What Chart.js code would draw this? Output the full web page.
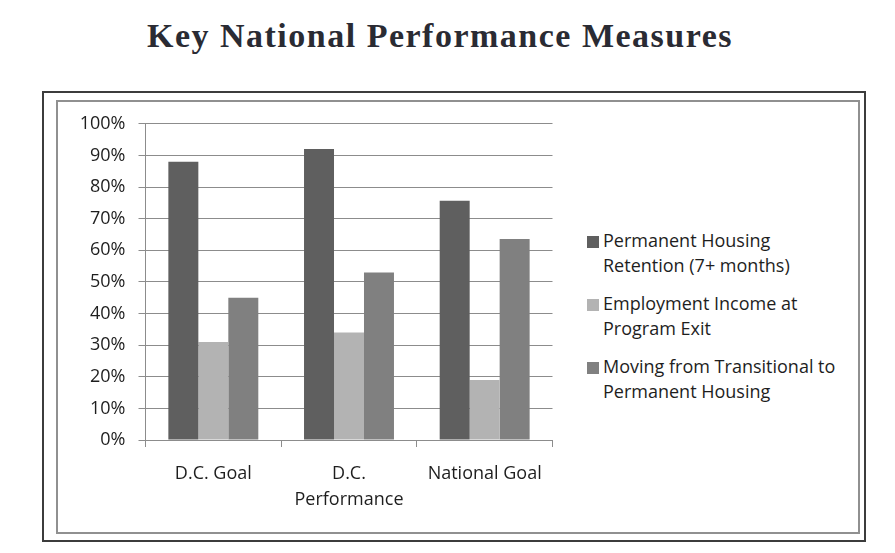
<!DOCTYPE html>
<html>
<head>
<meta charset="utf-8">
<script src="https://cdn.jsdelivr.net/npm/chart.js@4/dist/chart.umd.min.js"></script>
<style>
  html, body { margin: 0; padding: 0; background: #fff; }
  body { width: 895px; height: 553px; position: relative; overflow: hidden; }
  #title { position: absolute; left: 0; width: 880px; top: 18.5px; text-align: center;
    font-family: "Liberation Serif", "Times New Roman", serif; font-weight: bold; font-size: 34px;
    line-height: 1; letter-spacing: 1.5px; color: #2a2b33; }
  #outer { position: absolute; left: 42px; top: 91px; width: 824px; height: 451px; box-sizing: border-box;
    border: 2px solid #3c3c3c; }
  #inner { position: absolute; left: 56px; top: 100px; width: 804px; height: 434px; box-sizing: border-box;
    border: 2px solid #909090; }
  #wrap { position: absolute; left: 60px; top: 100px; width: 500px; height: 420px; }
  #legend { position: absolute; left: 587px; top: 228px; font-family: "Open Sans", Lato, sans-serif;
    font-size: 18px; line-height: 25px; color: #1e1e1e; }
  .item { position: absolute; left: 0; white-space: pre; }
  .sw { position: absolute; left: 0; top: 8px; width: 12px; height: 12px; }
  .tx { position: absolute; left: 16px; top: 0; }
</style>
</head>
<body>
<div id="title">Key National Performance Measures</div>
<div id="outer"></div>
<div id="inner"></div>
<div id="wrap"><canvas id="c"></canvas></div>
<div id="legend"></div>
<script>
const categories = ["D.C. Goal", "D.C. Performance", "National Goal"];
const seriesNames = [
  "Permanent Housing\nRetention (7+ months)",
  "Employment Income at\nProgram Exit",
  "Moving from Transitional to\nPermanent Housing"
];
const housingRetention = [88, 92, 75.7];
const employmentIncome = [31, 34, 19];
const transitionalToPermanent = [45, 53, 63.6];
const seriesColors = ["#5f5f5f", "#b3b3b3", "#808080"];
const yTicks = [0, 10, 20, 30, 40, 50, 60, 70, 80, 90, 100];

const seriesValues = [housingRetention, employmentIncome, transitionalToPermanent];
const FONT = { family: "'Open Sans', Lato, sans-serif", size: 18 };

const datasets = seriesValues.map((vals, i) => ({
  label: seriesNames[i].replace("\n", " "),
  data: vals,
  backgroundColor: seriesColors[i],
  borderWidth: 0,
  categoryPercentage: 0.663,
  barPercentage: 1.0
}));

new Chart(document.getElementById("c"), {
  type: "bar",
  data: { labels: categories, datasets },
  options: {
    responsive: true,
    maintainAspectRatio: false,
    animation: false,
    layout: { padding: { top: 23.3, right: 7.5, left: 0, bottom: 0 } },
    plugins: { legend: { display: false }, tooltip: { enabled: false }, title: { display: false } },
    scales: {
      x: {
        grid: { display: true, drawOnChartArea: false, drawTicks: true, tickLength: 7, color: "#8c8c8c", offset: true },
        border: { display: true, color: "#8c8c8c", width: 1 },
        ticks: {
          font: { family: FONT.family, size: 18, lineHeight: 1.45 }, color: "#1e1e1e", padding: 14, maxRotation: 0, autoSkip: false,
          callback: function (v) {
            const l = this.getLabelForValue(v);
            return l.length > 13 ? l.split(" ") : l;
          }
        },
        afterFit: s => { s.height = 80; }
      },
      y: {
        min: 0, max: 100,
        afterBuildTicks: s => { s.ticks = yTicks.map(v => ({ value: v })); },
        grid: { color: "#8c8c8c", lineWidth: 1, tickLength: 7, drawTicks: true },
        border: { display: true, color: "#8c8c8c", width: 1 },
        ticks: { font: FONT, color: "#1e1e1e", padding: 13, callback: v => v + "%" },
        afterFit: s => { s.width = 85.5; }
      }
    }
  }
});

const legend = document.getElementById("legend");
seriesNames.forEach((name, i) => {
  const it = document.createElement("div");
  it.className = "item";
  it.style.top = (i * 63) + "px";
  const sw = document.createElement("div");
  sw.className = "sw";
  sw.style.background = seriesColors[i];
  const tx = document.createElement("div");
  tx.className = "tx";
  tx.textContent = name;
  it.appendChild(sw);
  it.appendChild(tx);
  legend.appendChild(it);
});
</script>
</body>
</html>
